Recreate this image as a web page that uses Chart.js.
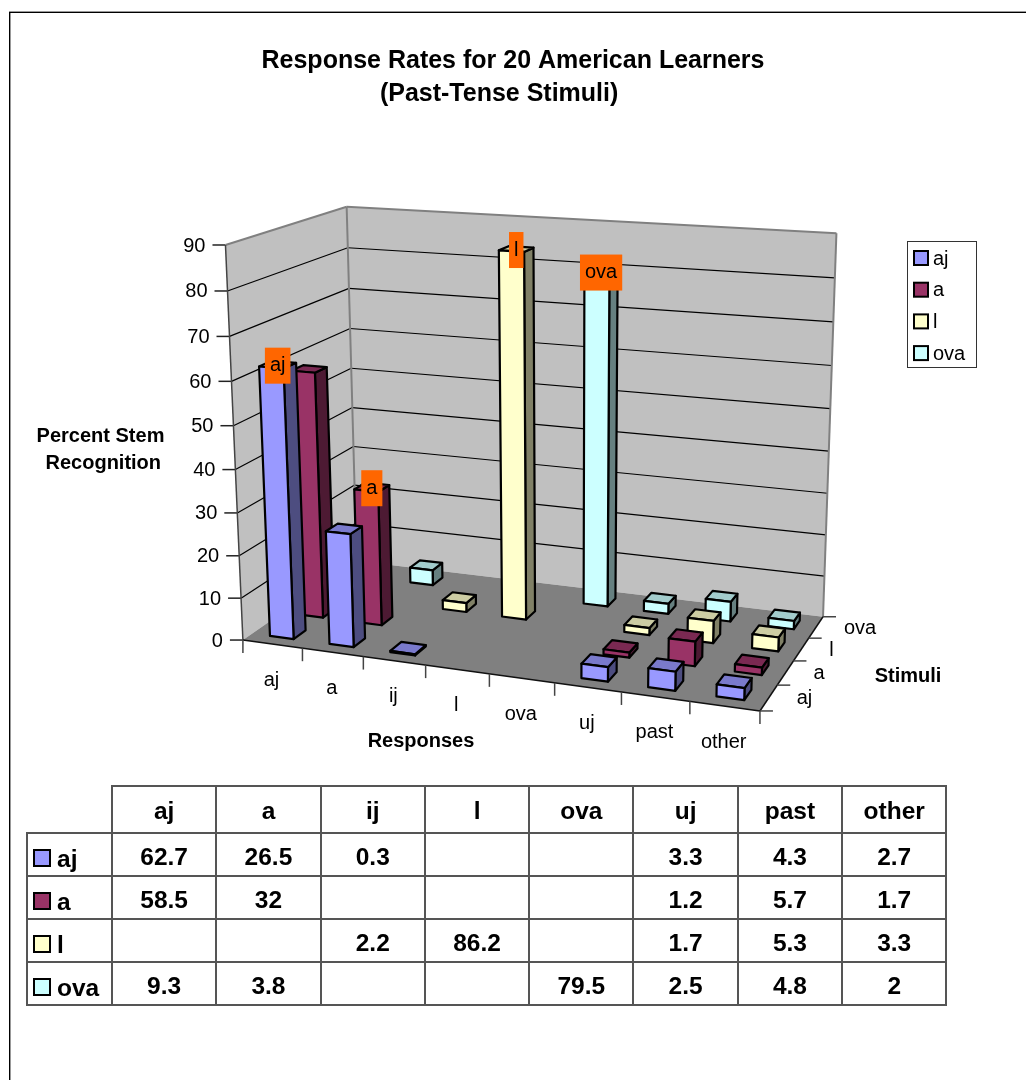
<!DOCTYPE html>
<html>
<head>
<meta charset="utf-8">
<title>Response Rates for 20 American Learners</title>
<script src="https://cdn.jsdelivr.net/npm/chart.js@4"></script>
<style>
    html, body { margin: 0; padding: 0; background: #fff; overflow: hidden; }
    body { width: 1026px; height: 1080px; position: relative; font-family: "Liberation Sans", Arial, sans-serif; }
    #chart { position: absolute; left: 0; top: 0; }
    #frame { position: absolute; left: 9px; top: 12px; width: 1100px; height: 1200px;
             border-left: 1px solid #000; border-top: 1px solid #000;
             box-shadow: 0 -1px 0 #999, inset 1px 0 0 #999; }
    #dataTable { position: absolute; left: 26px; top: 785px; width: 921px; table-layout: fixed;
                 border-collapse: collapse; font-weight: bold; font-size: 24.5px; line-height: 28px; color: #000; }
    #dataTable td, #dataTable th { box-sizing: border-box; border: 2px solid #555; padding: 5px 0 0; text-align: center; height: 43px; font-weight: bold; }
    #dataTable tr:first-child th { height: 47px; padding: 3px 0 0; }
    #dataTable th.corner { border-top: hidden; border-left: hidden; }
    #dataTable th.rowName { text-align: left; padding: 9px 0 0 5px; white-space: nowrap; }
    .key { display: inline-block; width: 14px; height: 14px; border: 2px solid #000; margin-right: 6px; vertical-align: 0; }
</style>
</head>
<body>
<canvas id="chart" width="1026" height="1080"></canvas>
<div id="frame"></div>
<table id="dataTable"></table>

<script>
// Categories and values
const responses = ["aj", "a", "ij", "l", "ova", "uj", "past", "other"];
const stimuli = ["aj", "a", "l", "ova"];
const ajValues = [62.7, 26.5, 0.3, null, null, 3.3, 4.3, 2.7];
const aValues = [58.5, 32, null, null, null, 1.2, 5.7, 1.7];
const lValues = [null, null, 2.2, 86.2, null, 1.7, 5.3, 3.3];
const ovaValues = [9.3, 3.8, null, null, 79.5, 2.5, 4.8, 2];
const seriesValues = [ajValues, aValues, lValues, ovaValues];
const seriesColors = ["#9999FF", "#993366", "#FFFFCC", "#CCFFFF"];
const valueTicks = [0, 90, 10];

const FONT = '"Liberation Sans", Arial, sans-serif';
const TICK_FONT = "20px " + FONT;
const BAR_FRACTION = 0.4;

// Box corners on the page: [u, v, w, pageX, pageY]
// u runs along the responses, v along the stimuli, w up the value axis
const boxCorners = [
    [0, 0, 0, 241.7, 640],
    [1, 0, 0, 760, 711],
    [0, 1, 0, 358, 561],
    [1, 1, 0, 822.7, 616.7],
    [0, 0, 1, 226.7, 245],
    [0, 1, 1, 345.3, 206.7],
    [1, 1, 1, 836.7, 233.3]
];

// Least squares fit of a perspective camera through the box corners
function fitCamera(corners) {
    var rows = [], rhs = [];
    corners.forEach(function (c) {
        var x = c[3] / 1000, y = c[4] / 1000;
        rows.push([c[0], c[1], c[2], 1, 0, 0, 0, 0, -x * c[0], -x * c[1], -x * c[2]]);
        rhs.push(x);
        rows.push([0, 0, 0, 0, c[0], c[1], c[2], 1, -y * c[0], -y * c[1], -y * c[2]]);
        rhs.push(y);
    });
    var n = 11, m = [];
    for (var i = 0; i < n; i++) {
        m[i] = [];
        for (var j = 0; j < n; j++) {
            m[i][j] = rows.reduce(function (s, r) { return s + r[i] * r[j]; }, 0);
        }
        m[i][n] = rows.reduce(function (s, r, k) { return s + r[i] * rhs[k]; }, 0);
    }
    for (var p = 0; p < n; p++) {
        var best = p;
        for (var q = p + 1; q < n; q++) {
            if (Math.abs(m[q][p]) > Math.abs(m[best][p])) best = q;
        }
        var tmp = m[p]; m[p] = m[best]; m[best] = tmp;
        for (var r = 0; r < n; r++) {
            if (r === p) continue;
            var f = m[r][p] / m[p][p];
            for (var s = p; s <= n; s++) m[r][s] -= f * m[p][s];
        }
    }
    return m.map(function (row, k) { return row[n] / row[k]; });
}

const cam = fitCamera(boxCorners);

function project(u, v, w) {
    var d = cam[8] * u + cam[9] * v + cam[10] * w + 1;
    return {
        x: 1000 * (cam[0] * u + cam[1] * v + cam[2] * w + cam[3]) / d,
        y: 1000 * (cam[4] * u + cam[5] * v + cam[6] * w + cam[7]) / d
    };
}

function polygon(ctx, pts, fill, stroke, lineWidth) {
    ctx.beginPath();
    pts.forEach(function (p, i) {
        if (i === 0) ctx.moveTo(p.x, p.y); else ctx.lineTo(p.x, p.y);
    });
    ctx.closePath();
    if (fill) { ctx.fillStyle = fill; ctx.fill(); }
    if (stroke) { ctx.strokeStyle = stroke; ctx.lineWidth = lineWidth; ctx.stroke(); }
}

function line(ctx, a, b, color, lineWidth) {
    ctx.beginPath();
    ctx.moveTo(a.x, a.y);
    ctx.lineTo(b.x, b.y);
    ctx.strokeStyle = color;
    ctx.lineWidth = lineWidth;
    ctx.stroke();
}

function shade(hex, factor) {
    var n = parseInt(hex.slice(1), 16);
    var part = function (v) { return Math.round(v * factor); };
    return "rgb(" + part(n >> 16) + "," + part((n >> 8) & 255) + "," + part(n & 255) + ")";
}

function text(ctx, str, x, y, font, align) {
    ctx.font = font;
    ctx.fillStyle = "#000";
    ctx.textAlign = align || "center";
    ctx.textBaseline = "middle";
    ctx.fillText(str, x, y);
}

// Position of a scale value along the box, from 0 to 1
function alongX(scale, px) { return (px - scale.left) / scale.width; }
function alongY(scale, px) { return (scale.bottom - px) / scale.height; }

// Bar controller that draws each bar as a cuboid, back rows first
class Bar3dController extends Chart.BarController {
    draw() {
        var ctx = this.chart.ctx;
        var meta = this.getMeta();
        var scales = this.chart.scales;
        var color = this.getDataset().backgroundColor;
        var vMid = alongX(scales.z, scales.z.getPixelForValue(this.index));
        var halfDepth = BAR_FRACTION / stimuli.length / 2;

        ctx.save();
        ctx.lineJoin = "round";
        for (var i = meta.data.length - 1; i >= 0; i--) {
            if (meta._parsed[i].y === null) continue;
            var bar = meta.data[i];
            var u0 = alongX(scales.x, bar.x - bar.width / 2);
            var u1 = alongX(scales.x, bar.x + bar.width / 2);
            var v0 = vMid - halfDepth, v1 = vMid + halfDepth;
            var top = alongY(scales.y, bar.y);

            polygon(ctx, [project(u1, v0, 0), project(u1, v1, 0), project(u1, v1, top), project(u1, v0, top)],
                shade(color, 0.5), "#000", 2.2);
            polygon(ctx, [project(u0, v0, top), project(u1, v0, top), project(u1, v1, top), project(u0, v1, top)],
                shade(color, 0.8), "#000", 2.2);
            polygon(ctx, [project(u0, v0, 0), project(u1, v0, 0), project(u1, v0, top), project(u0, v0, top)],
                color, "#000", 2.2);
        }
        ctx.restore();
    }
}
Bar3dController.id = "bar3d";
Bar3dController.defaults = Chart.BarController.defaults;
Chart.register(Bar3dController);

// Walls, floor, gridlines and axis labels behind the bars
const boxPlugin = {
    id: "box",
    beforeDatasetsDraw: function (chart) {
        var ctx = chart.ctx, scales = chart.scales;
        var O = project(0, 0, 0), X = project(1, 0, 0), V = project(0, 1, 0), XV = project(1, 1, 0);
        var Z = project(0, 0, 1), ZV = project(0, 1, 1), XVZ = project(1, 1, 1);

        ctx.save();
        ctx.lineCap = "butt";
        polygon(ctx, [O, Z, ZV, V], "#C0C0C0");
        polygon(ctx, [V, ZV, XVZ, XV], "#C0C0C0");
        polygon(ctx, [O, X, XV, V], "#808080");

        scales.y.ticks.forEach(function (tick) {
            var w = alongY(scales.y, scales.y.getPixelForValue(tick.value));
            var front = project(0, 0, w), corner = project(0, 1, w), right = project(1, 1, w);
            if (w > 0 && w < 1) {
                line(ctx, front, corner, "#000", 1.2);
                line(ctx, corner, right, "#000", 1.2);
            }
            line(ctx, { x: front.x - 13, y: front.y }, front, "#222", 1.5);
            text(ctx, tick.label, front.x - 20, front.y + 1, TICK_FONT, "right");
        });

        line(ctx, Z, ZV, "#808080", 2);
        line(ctx, ZV, XVZ, "#808080", 2);
        line(ctx, XVZ, XV, "#808080", 2);
        line(ctx, ZV, V, "#808080", 2);
        line(ctx, Z, O, "#444", 1.5);
        line(ctx, O, X, "#111", 1.5);
        line(ctx, X, XV, "#111", 1.5);

        // responses along the front edge
        for (var i = 0; i <= responses.length; i++) {
            var p = project(i / responses.length, 0, 0);
            line(ctx, p, { x: p.x, y: p.y + 13 }, "#444", 1.5);
        }
        scales.x.ticks.forEach(function (tick, k) {
            var p = project(alongX(scales.x, scales.x.getPixelForValue(k)), 0, 0);
            text(ctx, tick.label, p.x - 1, p.y + 36, TICK_FONT);
        });

        // stimuli along the right edge
        for (var j = 0; j <= stimuli.length; j++) {
            var q = project(1, j / stimuli.length, 0);
            line(ctx, q, { x: q.x + 13, y: q.y }, "#444", 1.5);
        }
        scales.z.ticks.forEach(function (tick, k) {
            var p = project(1, alongX(scales.z, scales.z.getPixelForValue(k)), 0);
            text(ctx, tick.label, p.x + 28, p.y + 1, TICK_FONT, "left");
        });

        // axis titles
        var bold = "bold 20px " + FONT;
        text(ctx, scales.x.options.title.text, 421, 741, bold);
        text(ctx, scales.z.options.title.text, 908, 676, bold);
        scales.y.options.title.text.forEach(function (str, k) {
            text(ctx, str, 100.5, 436 + k * 27, bold);
        });
        ctx.restore();
    },

    // Orange labels on the bars where stimulus and response agree, then the legend
    afterDatasetsDraw: function (chart) {
        var ctx = chart.ctx, scales = chart.scales;
        ctx.save();
        chart.data.datasets.forEach(function (ds, j) {
            var meta = chart.getDatasetMeta(j);
            var v = alongX(scales.z, scales.z.getPixelForValue(j));
            meta.data.forEach(function (bar, i) {
                if (responses[i] !== ds.label) return;
                var p = project(alongX(scales.x, bar.x), v, alongY(scales.y, bar.y));
                ctx.font = TICK_FONT;
                var w = ctx.measureText(ds.label).width + 10;
                ctx.fillStyle = "#FF6600";
                ctx.fillRect(p.x - w / 2, p.y - 17, w, 36);
                text(ctx, ds.label, p.x, p.y + 1, TICK_FONT);
            });
        });

        ctx.fillStyle = "#fff";
        ctx.fillRect(907, 241, 70, 127);
        ctx.strokeStyle = "#333";
        ctx.lineWidth = 1;
        ctx.strokeRect(907.5, 241.5, 69, 126);
        chart.data.datasets.forEach(function (ds, j) {
            var y = 251 + j * 31.7;
            ctx.fillStyle = ds.backgroundColor;
            ctx.fillRect(914, y, 14, 14);
            ctx.strokeStyle = "#000";
            ctx.lineWidth = 2;
            ctx.strokeRect(914, y, 14, 14);
            text(ctx, ds.label, 933, y + 8, TICK_FONT, "left");
        });
        ctx.restore();
    }
};

new Chart(document.getElementById("chart"), {
    type: "bar3d",
    data: {
        labels: responses,
        datasets: stimuli.map(function (name, j) {
            return {
                label: name,
                data: seriesValues[j],
                backgroundColor: seriesColors[j],
                categoryPercentage: BAR_FRACTION,
                barPercentage: 1,
                grouped: false,
                clip: false
            };
        })
    },
    options: {
        responsive: false,
        animation: false,
        events: [],
        layout: { padding: 0 },
        scales: {
            x: {
                type: "category", offset: true, display: false,
                ticks: { autoSkip: false },
                title: { text: "Responses" }
            },
            z: {
                axis: "x", type: "category", labels: stimuli, offset: true, display: false,
                ticks: { autoSkip: false },
                title: { text: "Stimuli" }
            },
            y: {
                type: "linear", min: valueTicks[0], max: valueTicks[1], display: false,
                ticks: { stepSize: valueTicks[2], autoSkip: false },
                title: { text: ["Percent Stem", " Recognition"] }
            }
        },
        plugins: {
            legend: { display: false },
            tooltip: { enabled: false },
            title: {
                display: true,
                text: ["Response Rates for 20 American Learners", "(Past-Tense Stimuli)    "],
                color: "#000",
                font: { family: FONT, size: 25, weight: "bold", lineHeight: 1.32 },
                padding: { top: 45, bottom: 0 }
            }
        }
    },
    plugins: [boxPlugin]
});

// Data table under the chart
var tableHtml = '<colgroup><col style="width:85px">' + responses.map(function () {
    return '<col style="width:104.3px">';
}).join("") + "</colgroup>";
tableHtml += '<tr><th class="corner"></th>' + responses.map(function (r) { return "<th>" + r + "</th>"; }).join("") + "</tr>";
stimuli.forEach(function (name, j) {
    tableHtml += '<tr><th class="rowName"><span class="key" style="background:' + seriesColors[j] + '"></span>' + name + "</th>";
    seriesValues[j].forEach(function (v) {
        tableHtml += "<td>" + (v === null ? "" : v) + "</td>";
    });
    tableHtml += "</tr>";
});
document.getElementById("dataTable").innerHTML = tableHtml;
</script>
</body>
</html>
